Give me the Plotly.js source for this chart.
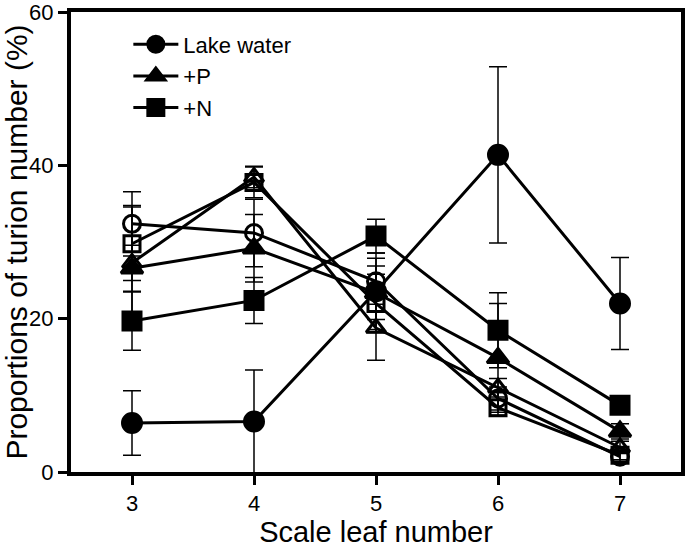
<!DOCTYPE html>
<html>
<head>
<meta charset="utf-8">
<script src="https://cdn.plot.ly/plotly-3.0.1.min.js"></script>
<style>html,body{margin:0;padding:0;background:#fff;}#chart{width:685px;height:548px;}</style>
</head>
<body>
<div id="chart"></div>
<script>
const xVals = [3, 4, 5, 6, 7];

const lakeFilled = [6.4, 6.6, 23.6, 41.4, 22.0];
const lakeFilledErr = [4.2, 6.7, 5.0, 11.5, 6.0];

const pFilled = [26.6, 29.2, 23.4, 14.9, 5.3];
const pFilledErr = [3.0, 4.4, 3.5, 7.1, 1.0];

const nFilled = [19.7, 22.4, 30.8, 18.5, 8.7];
const nFilledErr = [3.8, 3.0, 2.2, 4.9, 0.8];

const lakeOpen = [32.4, 31.2, 24.9, 9.6, 2.0];
const lakeOpenErr = [4.2, 4.4, 3.0, 1.5, 0.6];

const pOpen = [27.3, 38.5, 18.8, 11.0, 3.2];
const pOpenErr = [7.5, 1.4, 4.2, 1.2, 0.8];

const nOpen = [29.8, 37.8, 22.0, 8.4, 2.2];
const nOpenErr = [4.8, 2.0, 3.8, 1.0, 0.6];

const seriesNames = ['Lake water', '+P', '+N'];
const yTicks = [0, 20, 40, 60];
const xTicks = [3, 4, 5, 6, 7];

function mk(y, err, symbol, size, name, showLegend) {
  return {
    x: xVals, y: y, type: 'scatter', mode: 'lines+markers',
    name: name, showlegend: showLegend,
    line: {color: '#000', width: 3},
    marker: {symbol: symbol, size: size, color: '#000', line: {color: '#000', width: 3}},
    error_y: {type: 'data', array: err, visible: true, color: '#000', thickness: 1.5, width: 9}
  };
}

const data = [
  mk(lakeOpen, lakeOpenErr, 'circle-open', 17, 'Lake water (open)', false),
  mk(pOpen, pOpenErr, 'triangle-up-open', 17, '+P (open)', false),
  mk(nOpen, nOpenErr, 'square-open', 16, '+N (open)', false),
  mk(lakeFilled, lakeFilledErr, 'circle', 19, seriesNames[0], true),
  mk(pFilled, pFilledErr, 'triangle-up', 19, seriesNames[1], true),
  mk(nFilled, nFilledErr, 'square', 18, seriesNames[2], true)
];

const layout = {
  width: 685, height: 548,
  margin: {l: 71, r: 4, t: 12, b: 76},
  paper_bgcolor: '#fff', plot_bgcolor: '#fff',
  font: {family: 'Liberation Sans, Arial, sans-serif', color: '#000', size: 22},
  showlegend: true,
  legend: {
    x: 0.094, y: 0.975, xanchor: 'left', yanchor: 'top',
    font: {size: 22, color: '#000'}, bgcolor: 'rgba(0,0,0,0)',
    traceorder: 'normal', tracegroupgap: 0, itemwidth: 45
  },
  xaxis: {
    range: [2.5, 7.5], tickvals: xTicks, ticktext: xTicks.map(String),
    showgrid: false, zeroline: false,
    showline: true, linecolor: '#000', linewidth: 4, mirror: true,
    ticks: 'outside', ticklen: 9, tickwidth: 3, tickcolor: '#000',
    tickfont: {size: 22},
    title: {text: 'Scale leaf number', font: {size: 29}, standoff: 12}
  },
  yaxis: {
    range: [0, 60.05], tickvals: yTicks, ticktext: yTicks.map(String),
    showgrid: false, zeroline: false,
    showline: true, linecolor: '#000', linewidth: 4, mirror: true,
    ticks: 'outside', ticklen: 9, tickwidth: 3, tickcolor: '#000',
    tickfont: {size: 22}, ticklabeloverflow: 'allow',
    title: {text: 'Proportions of turion number (%)', font: {size: 30}, standoff: 5}
  }
};

Plotly.newPlot('chart', data, layout, {displayModeBar: false, staticPlot: true});
</script>
</body>
</html>
